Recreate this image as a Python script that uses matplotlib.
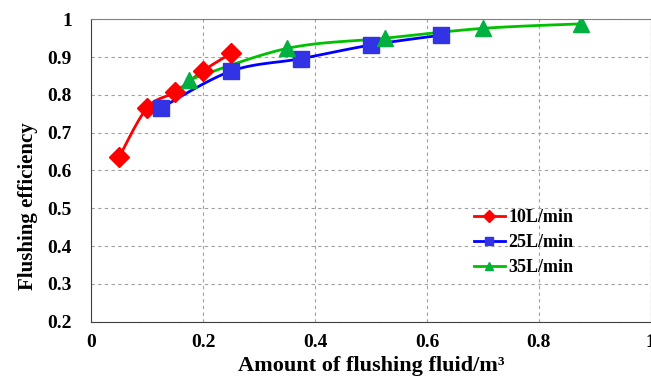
import numpy as np
import matplotlib.pyplot as plt
from matplotlib.lines import Line2D
from matplotlib.ticker import FuncFormatter

# ─────────────────────────────────────────
# Data
# ─────────────────────────────────────────
x_10 = [0.05, 0.10, 0.15, 0.20, 0.25]
y_10 = [0.636, 0.766, 0.808, 0.864, 0.910]

x_25 = [0.125, 0.25, 0.375, 0.50, 0.625]
y_25 = [0.766, 0.863, 0.896, 0.932, 0.958]

x_35 = [0.175, 0.35, 0.525, 0.70, 0.875]
y_35 = [0.840, 0.923, 0.950, 0.976, 0.988]

labels = ["10L/min", "25L/min", "35L/min"]


# Excel-style smoothed line (Catmull-Rom) through the points
def smooth(xs, ys, n=30):
    p = np.column_stack([xs, ys])
    p = np.vstack([p[0], p, p[-1]])
    out = []
    for i in range(1, len(p) - 2):
        p0, p1, p2, p3 = p[i - 1], p[i], p[i + 1], p[i + 2]
        t = np.linspace(0, 1, n)[:, None]
        seg = 0.5 * ((2 * p1) + (-p0 + p2) * t
                     + (2 * p0 - 5 * p1 + 4 * p2 - p3) * t ** 2
                     + (-p0 + 3 * p1 - 3 * p2 + p3) * t ** 3)
        out.append(seg)
    c = np.vstack(out)
    return c[:, 0], c[:, 1]


plt.rcParams["font.family"] = ["Liberation Serif", "DejaVu Serif"]
plt.rcParams["font.weight"] = "bold"

fig = plt.figure(figsize=(6.51, 3.77), dpi=100)
ax = fig.add_axes([0.1402, 0.1467, 0.8595, 0.8021])

series = [
    (x_10, y_10, "#FF0000", "#FF0000", "D", 10),
    (x_25, y_25, "#0000FF", "#3333E6", "s", 12),
    (x_35, y_35, "#00C000", "#00B040", "^", 12),
]

handles = []
for (xs, ys, lc, mc, mk, ms), lab in zip(series, labels):
    sx, sy = smooth(xs, ys)
    ax.plot(sx, sy, color=lc, linewidth=2.0, zorder=3)
    ax.plot(xs, ys, linestyle="none", marker=mk, markersize=ms,
            markerfacecolor=mc, markeredgecolor=mc, zorder=4)
    handles.append(Line2D([0], [0], color=lc, linewidth=2.0, marker=mk,
                          markersize=6, markerfacecolor=mc,
                          markeredgecolor=mc, label=lab))

ax.set_xlim(0, 1)
ax.set_ylim(0.2, 1.0)
ax.set_xticks(np.arange(0, 1.01, 0.2))
ax.set_yticks(np.arange(0.2, 1.01, 0.1))
fmt = FuncFormatter(lambda v, p: f"{v:.1f}".rstrip("0").rstrip(".") if v not in (0, 1) else f"{v:g}")
ax.xaxis.set_major_formatter(fmt)
ax.yaxis.set_major_formatter(fmt)
ax.tick_params(axis="x", length=0, labelsize=14, pad=9)
ax.tick_params(axis="y", length=0, labelsize=14, pad=14)

ax.grid(True, linestyle=(0, (3, 3)), color="#A0A0A0", linewidth=0.8)
for s in ["top", "right"]:
    ax.spines[s].set_color("#808080")
for s in ["left", "bottom"]:
    ax.spines[s].set_color("#404040")

ax.set_xlabel("Amount of flushing fluid/m³", fontsize=16, fontweight="bold")
ax.set_ylabel("Flushing efficiency", fontsize=15, fontweight="bold")
ax.xaxis.set_label_coords(0.5, -0.113)
ax.yaxis.set_label_coords(-0.095, 0.383)

ax.legend(handles=handles, loc="center left", bbox_to_anchor=(0.655, 0.262),
          frameon=False, fontsize=13, handlelength=1.7, handletextpad=0.2,
          labelspacing=0.45)

fig.savefig("out.png", dpi=100)
